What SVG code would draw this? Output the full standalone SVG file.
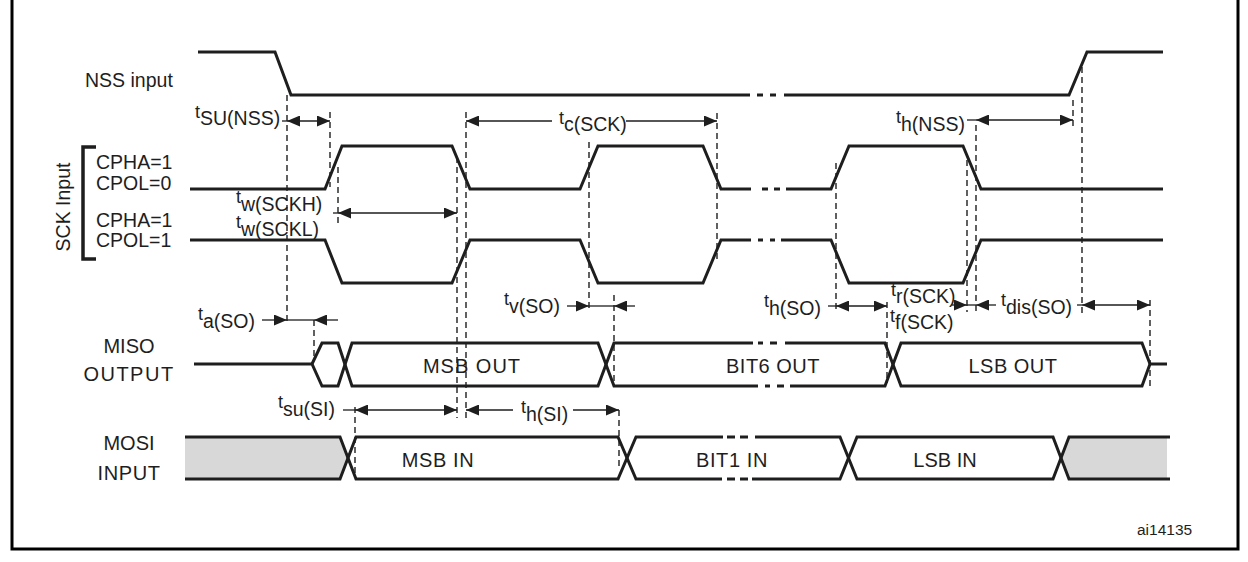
<svg xmlns="http://www.w3.org/2000/svg" width="1248" height="562" viewBox="0 0 1248 562">
<defs>
<style>
.sig{fill:none;stroke:#1e1e1e;stroke-width:3;stroke-linejoin:miter}
.brk{fill:none;stroke:#1e1e1e;stroke-width:3}
.guide{fill:none;stroke:#1e1e1e;stroke-width:1.4;stroke-dasharray:6,4}
.dim{fill:none;stroke:#1e1e1e;stroke-width:1.3}
.arr2{marker-start:url(#ah);marker-end:url(#ah)}
.arr1{marker-end:url(#ah)}
text{font-family:"Liberation Sans",Arial,sans-serif;fill:#1e1e1e}
.lbl{font-size:19.5px}
.bus{font-size:20px;text-anchor:middle}
.tm{font-size:18px}
.sub{font-size:19.5px}
.gray{fill:#d8d8d8;stroke:none}
</style>
<marker id="ah" viewBox="0 0 13 11" refX="13" refY="5.5" markerWidth="13" markerHeight="11" markerUnits="userSpaceOnUse" orient="auto-start-reverse">
<path d="M0,0 L13,5.5 L0,11 Z" fill="#1e1e1e"/>
</marker>
</defs>
<rect width="1248" height="562" fill="#ffffff"/>
<path id="frame" d="M12,-2 V549 H1238 V-2" fill="none" stroke="#000" stroke-width="3"/>

<g id="signal-labels">
<text class="lbl" x="85" y="87">NSS input</text>
<text class="lbl" x="96" y="169">CPHA=1</text>
<text class="lbl" x="96" y="190">CPOL=0</text>
<text class="lbl" x="96" y="227">CPHA=1</text>
<text class="lbl" x="96" y="247">CPOL=1</text>
<text class="lbl" transform="translate(70,207) rotate(-90)" text-anchor="middle">SCK Input</text>
<path d="M96,147 H83 V259 H96" fill="none" stroke="#1e1e1e" stroke-width="3.5"/>
<text class="bus" x="129" y="353">MISO</text>
<text class="bus" x="129" y="381" letter-spacing="1.5">OUTPUT</text>
<text class="bus" x="129" y="450">MOSI</text>
<text class="bus" x="129" y="480" letter-spacing="0.6">INPUT</text>
<text x="1137" y="535" font-size="15.5px">ai14135</text>
</g>

<g id="nss">
<path class="sig" d="M198,52 H275 L291,95 H750 M784,95 H1069 L1087,52 H1163"/>
<path class="brk" d="M757,95 H763 M770,95 H776"/>
</g>

<g id="sck-cpol0">
<path class="sig" d="M190,189 H325 L342,146 H452 L470,189 H580 L598,146 H703 L721,189 H751 M786,189 H831 L849,146 H963 L981,189 H1163"/>
<path class="brk" d="M762,189 H768 M774,189 H780"/>
</g>

<g id="sck-cpol1">
<path class="sig" d="M190,240 H325 L342,283 H452 L470,240 H580 L598,283 H703 L721,240 H751 M781,240 H831 L849,283 H963 L981,240 H1163"/>
<path class="brk" d="M758,240 H763 M770,240 H775"/>
</g>

<g id="miso">
<path class="sig" d="M312,364 L322,343 H338 L352,386 H598 L614,343 H753 M785,343 H885 L901,386 H1142 L1150,364 H1167"/>
<path class="sig" d="M194,364 H312 L322,386 H338 L352,343 H598 L614,386 H758 M790,386 H885 L901,343 H1142 L1150,364"/>
<path class="brk" d="M758,343 H763 M770,343 H777 M765,386 H770 M777,386 H784"/>
<text class="bus" x="472" y="373" letter-spacing="1">MSB OUT</text>
<text class="bus" x="773" y="373" letter-spacing="0.5">BIT6 OUT</text>
<text class="bus" x="1013" y="373" letter-spacing="0.5">LSB OUT</text>
</g>

<g id="mosi">
<path class="gray" d="M185,437 H340 L348,458 L340,479 H185 Z"/>
<path class="gray" d="M1167,437 H1069 L1061,458 L1069,479 H1167 Z"/>
<path class="sig" d="M185,437 H340 L356,479 H618 L636,437 H723 M755,437 H840 L857,479 H1053 L1069,437 H1170"/>
<path class="sig" d="M185,479 H340 L356,437 H618 L636,479 H722 M752,479 H840 L857,437 H1053 L1069,479 H1170"/>
<path class="brk" d="M727,437 H735 M740,437 H748 M727,479 H735 M740,479 H748"/>
<text class="bus" x="438" y="467" letter-spacing="0.6">MSB IN</text>
<text class="bus" x="732" y="467" letter-spacing="0.6">BIT1 IN</text>
<text class="bus" x="945" y="467">LSB IN</text>
</g>

<g id="guides">
<path class="guide" d="M287,95 V323"/>
<path class="guide" d="M330,112 V187"/>
<path class="guide" d="M338,167 V223"/>
<path class="guide" d="M457,157 V418"/>
<path class="guide" d="M466,112 V418"/>
<path class="guide" d="M589,142 V312"/>
<path class="guide" d="M717,113 V263"/>
<path class="guide" d="M836,163 V313"/>
<path class="guide" d="M967,160 V312"/>
<path class="guide" d="M976,125 V312"/>
<path class="guide" d="M1073,100 V130"/>
<path class="guide" d="M1082,67 V315"/>
<path class="guide" d="M1150,300 V387"/>
<path class="guide" d="M887,302 V383"/>
<path class="guide" d="M614,295 V383"/>
<path class="guide" d="M619,410 V470"/>
<path class="guide" d="M314,320 V360"/>
<path class="guide" d="M355,407 V473"/>
</g>

<g id="connectors">
<path class="dim" d="M282,121 H287"/>
<path class="dim arr2" d="M287,121 H330"/>
<path class="dim arr1" d="M552,121 H466"/>
<path class="dim arr1" d="M626,121 H717"/>
<path class="dim" d="M967,120 H976"/>
<path class="dim arr2" d="M976,120 H1073"/>
<path class="dim" d="M333,213 H338"/>
<path class="dim arr2" d="M338,213 H457"/>
<path class="dim arr1" d="M262,320 H287"/>
<path class="dim" d="M287,320 H314"/>
<path class="dim arr1" d="M338,320 H314"/>
<path class="dim arr1" d="M567,306 H589"/>
<path class="dim" d="M589,306 H614"/>
<path class="dim arr1" d="M635,306 H614"/>
<path class="dim" d="M828,306 H836"/>
<path class="dim arr2" d="M836,306 H887"/>
<path class="dim arr1" d="M952,305 H967"/>
<path class="dim" d="M967,305 H976"/>
<path class="dim arr1" d="M996,305 H976"/>
<path class="dim" d="M1077,305 H1082"/>
<path class="dim arr2" d="M1082,305 H1150"/>
<path class="dim" d="M343,410 H355"/>
<path class="dim arr2" d="M355,410 H457"/>
<path class="dim arr1" d="M513,410 H466"/>
<path class="dim arr1" d="M573,410 H619"/>
</g>

<g id="timing-labels">
<text x="195" y="118"><tspan class="tm">t</tspan><tspan class="sub" dy="7">SU(NSS)</tspan></text>
<text x="559" y="124"><tspan class="tm">t</tspan><tspan class="sub" dy="7">c(SCK)</tspan></text>
<text x="896" y="123"><tspan class="tm">t</tspan><tspan class="sub" dy="8">h(NSS)</tspan></text>
<text x="236" y="203"><tspan class="tm">t</tspan><tspan class="sub" dy="8">w(SCKH)</tspan></text>
<text x="236" y="228"><tspan class="tm">t</tspan><tspan class="sub" dy="8">w(SCKL)</tspan></text>
<text x="198" y="320"><tspan class="tm">t</tspan><tspan class="sub" dy="8">a(SO)</tspan></text>
<text x="504" y="305"><tspan class="tm">t</tspan><tspan class="sub" dy="8">v(SO)</tspan></text>
<text x="764" y="307"><tspan class="tm">t</tspan><tspan class="sub" dy="8">h(SO)</tspan></text>
<text x="891" y="296"><tspan class="tm">t</tspan><tspan class="sub" dy="7">r(SCK)</tspan></text>
<text x="890" y="322"><tspan class="tm">t</tspan><tspan class="sub" dy="7">f(SCK)</tspan></text>
<text x="1001" y="306"><tspan class="tm">t</tspan><tspan class="sub" dy="8">dis(SO)</tspan></text>
<text x="278" y="408"><tspan class="tm">t</tspan><tspan class="sub" dy="8">su(SI)</tspan></text>
<text x="521" y="413"><tspan class="tm">t</tspan><tspan class="sub" dy="8">h(SI)</tspan></text>
</g>
</svg>
